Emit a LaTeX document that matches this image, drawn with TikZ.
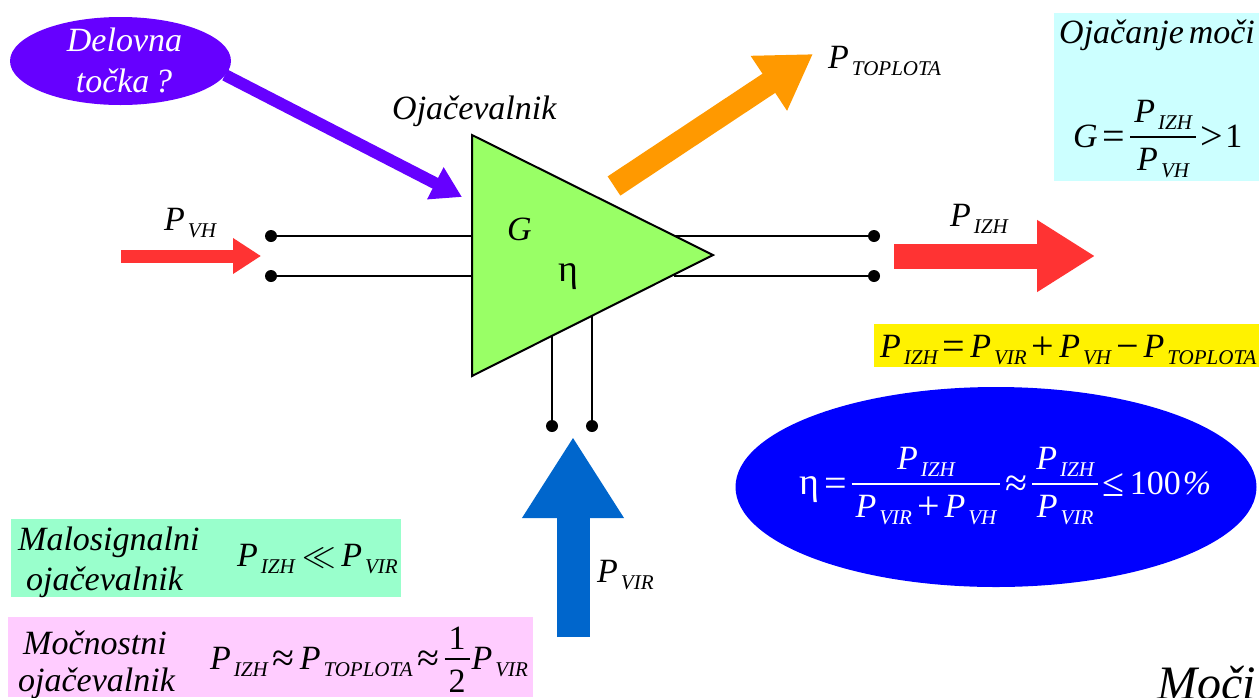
\documentclass[tikz,border=0pt]{standalone}
\usepackage{fontspec}
\setmainfont{Liberation Serif}
\usetikzlibrary{shapes.geometric,arrows.meta}
\definecolor{cPurple}{HTML}{6600FF}
\definecolor{cGreen}{HTML}{99FF66}
\definecolor{cRed}{HTML}{FF3333}
\definecolor{cOrange}{HTML}{FF9900}
\definecolor{cBlueA}{HTML}{0066CC}
\definecolor{cCyan}{HTML}{CCFFFF}
\definecolor{cMint}{HTML}{99FFCC}
\definecolor{cPink}{HTML}{FFCCFF}
\newcommand\Pw[1]{{\itshape P\kern3pt\raisebox{-7pt}{\fontsize{21}{21}\selectfont #1}}}
\newlength\FrW
\newlength\FrX
\newcommand\Fr[3][25pt]{%
  \settowidth\FrW{#2}\settowidth\FrX{#3}%
  \ifdim\FrX>\FrW\FrW=\FrX\fi
  \addtolength\FrW{8pt}%
  \makebox[0pt][l]{\raisebox{#1}{\makebox[\FrW]{#2}}}%
  \makebox[0pt][l]{\raisebox{9.5pt}{\rule{\FrW}{1.8pt}}}%
  \makebox[0pt][l]{\raisebox{-23pt}{\makebox[\FrW]{#3}}}%
  \kern\FrW}
\newcommand\Sy[1]{\kern5pt\raisebox{-2pt}{\fontsize{40}{40}\selectfont #1}\kern5pt}
\newcommand\Eta{{\fontsize{38}{38}\selectfont η}}
\tikzset{
  txt/.style={inner sep=0pt,anchor=base west,font=\fontsize{34}{38}\selectfont},
  box/.style={inner sep=0pt,outer sep=0pt,draw=none,anchor=north west},
  wire/.style={line width=2.4pt,black},
  dot/.style={circle,fill=black,inner sep=0pt,minimum size=12pt},
  block/.style n args={4}{line width=#2pt,draw=#1,-{Triangle[length=#3pt,width=#4pt,fill=#1]}},
}
\begin{document}
\begin{tikzpicture}[x=1pt,y=-1pt]
\useasboundingbox (0,0) rectangle (1259,697);
% background boxes
\node[box,fill=cCyan,minimum width=205pt,minimum height=168pt] (bcyan) at (1054,13) {};
\node[box,fill=yellow,minimum width=385pt,minimum height=43pt] (byellow) at (874,324) {};
\node[box,fill=cMint,minimum width=390pt,minimum height=78pt] (bmint) at (11,519) {};
\node[box,fill=cPink,minimum width=525pt,minimum height=80pt] (bpink) at (8,617) {};
% coordinates
\coordinate (tA) at (472,135);
\coordinate (tB) at (713,255);
\coordinate (tC) at (472,376);
\coordinate (i1) at (472,236);
\coordinate (i2) at (472,276);
\coordinate (o1) at (674,236);
\coordinate (o2) at (674,276);
\coordinate (s1) at (552,336);
\coordinate (s2) at (592,316);
\node[dot] (d1) at (271,236) {};
\node[dot] (d2) at (271,276) {};
\node[dot] (d3) at (874,236) {};
\node[dot] (d4) at (874,276) {};
\node[dot] (d5) at (552,426) {};
\node[dot] (d6) at (592,426) {};
\draw[wire] (d1) -- (i1);
\draw[wire] (d2) -- (i2);
\draw[wire] (o1) -- (d3);
\draw[wire] (o2) -- (d4);
\draw[wire] (d5) -- (s1);
\draw[wire] (d6) -- (s2);
\filldraw[fill=cGreen,draw=black,line width=2pt,line join=miter] (tA) -- (tB) -- (tC) -- cycle;
% arrows
\coordinate (pa) at (225,75);
\coordinate (pb) at (462,197);
\draw[block={cPurple}{12}{30}{34}] (pa) -- (pb);
\coordinate (ra) at (121,256);
\coordinate (rb) at (261,256);
\draw[block={cRed}{13}{28}{34}] (ra) -- (rb);
\coordinate (rc) at (894,256);
\coordinate (rd) at (1095,256);
\draw[block={cRed}{25}{58}{68}] (rc) -- (rd);
\coordinate (oa) at (614,186);
\coordinate (ob) at (813,54);
\draw[block={cOrange}{23}{53}{62}] (oa) -- (ob);
\coordinate (ba) at (573,637);
\coordinate (bb) at (573,437);
\draw[block={cBlueA}{33}{81}{96}] (ba) -- (bb);
% ellipses
\node[ellipse,fill=cPurple,inner sep=0pt,minimum width=221pt,minimum height=88pt] (ework) at (120.5,61) {};
\node[ellipse,fill=blue,inner sep=0pt,minimum width=521pt,minimum height=200pt] (eeta) at (996,487) {};
% texts
\node[txt,text=white,anchor=base] (t1) at (124.5,51) {\itshape Delovna};
\node[txt,text=white,anchor=base] (t2) at (124,92) {\itshape točka\,?};
\node[txt] (t3) at (392,119) {\itshape Ojačevalnik};
\node[txt] (t4) at (828,68) {\Pw{TOPLOTA}};
\node[txt] (t5) at (164,230) {\Pw{VH}};
\node[txt] (t6) at (950,226) {\Pw{IZH}};
\node[txt] (t7) at (507,240) {\itshape G};
\node[txt] (t8) at (558,281) {\Eta};
\node[txt] (t9) at (597,582) {\Pw{VIR}};
\node[txt] (t10) at (1059,43) {\itshape Ojačanje\kern5pt moči};
\node[txt] (t11) at (1073,147) {{\itshape G}\Sy{=}\Fr{\Pw{IZH}}{\Pw{VH}}\Sy{>}\kern-3pt 1};
\node[txt] (t12) at (880,357) {\Pw{IZH}\Sy{=}\Pw{VIR}\Sy{+}\Pw{VH}\Sy{−}\Pw{TOPLOTA}};
\node[txt,text=white] (t13) at (799,494) {\Eta\Sy{=}\Fr{\Pw{IZH}}{\Pw{VIR}\Sy{+}\Pw{VH}}\Sy{≈}\Fr{\Pw{IZH}}{\Pw{VIR}}\Sy{≤}100\kern2pt{\itshape\%}};
\node[txt] (t14) at (18,550) {\itshape Malosignalni};
\node[txt] (t15) at (26,590) {\itshape ojačevalnik};
\node[txt] (t16) at (237,566) {\Pw{IZH}\kern8pt\scalebox{1.35}{$\ll$}\kern5pt\Pw{VIR}};
\node[txt] (t17) at (23,654) {\itshape Močnostni};
\node[txt] (t18) at (18,691) {\itshape ojačevalnik};
\node[txt] (t19) at (210,669) {\Pw{IZH}\Sy{≈}\Pw{TOPLOTA}\Sy{≈}\Fr[20pt]{1}{2}\kern2pt\Pw{VIR}};
\begin{scope}
\clip (0,0) rectangle (1259,697);
\node[txt,font=\fontsize{48}{52}\selectfont] (t20) at (1157,699) {\itshape Moči};
\end{scope}
\end{tikzpicture}
\end{document}
